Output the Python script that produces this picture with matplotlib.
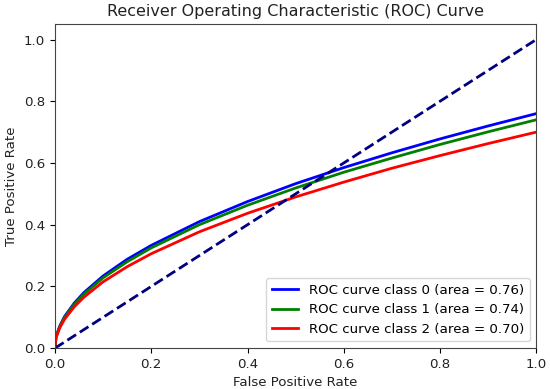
import matplotlib
matplotlib.use("Agg")
import matplotlib.pyplot as plt

# false positive rate sample points
fpr = [0.0, 0.002, 0.005, 0.01, 0.02, 0.04, 0.06, 0.1, 0.15, 0.2,
       0.3, 0.4, 0.5, 0.6, 0.7, 0.8, 0.9, 1.0]

# true positive rate for each class
tpr_class0 = [0.0, 0.035, 0.050, 0.072, 0.103, 0.146, 0.180, 0.234, 0.288, 0.333,
              0.410, 0.475, 0.533, 0.585, 0.633, 0.678, 0.720, 0.760]
tpr_class1 = [0.0, 0.034, 0.049, 0.070, 0.100, 0.142, 0.175, 0.228, 0.280, 0.325,
              0.400, 0.463, 0.519, 0.570, 0.616, 0.660, 0.701, 0.740]
tpr_class2 = [0.0, 0.032, 0.046, 0.066, 0.094, 0.134, 0.165, 0.215, 0.264, 0.306,
              0.377, 0.437, 0.490, 0.538, 0.583, 0.624, 0.663, 0.700]

areas = [0.76, 0.74, 0.70]
colors = ['blue', 'green', 'red']

fig = plt.figure(figsize=(5.5, 3.89), dpi=100)
ax = fig.add_axes([0.100, 0.105, 0.875, 0.833])

for i, tpr in enumerate([tpr_class0, tpr_class1, tpr_class2]):
    ax.plot(fpr, tpr, color=colors[i], lw=2,
            label=f'ROC curve class {i} (area = {areas[i]:.2f})')

ax.plot([0, 1], [0, 1], color='navy', lw=2, linestyle='--')

ax.set_xlim([0.0, 1.0])
ax.set_ylim([0.0, 1.05])
ax.set_xlabel('False Positive Rate', fontsize=9.6, color='#222222')
ax.set_ylabel('True Positive Rate', fontsize=9.6, color='#222222')
ax.set_title('Receiver Operating Characteristic (ROC) Curve', fontsize=11.5,
             color='#222222')
ax.tick_params(labelsize=9.6, labelcolor='#222222')
for s in ax.spines.values():
    s.set_color('#444444')
ax.legend(loc='lower right', fontsize=9.6)

fig.savefig('out.png', dpi=100)
